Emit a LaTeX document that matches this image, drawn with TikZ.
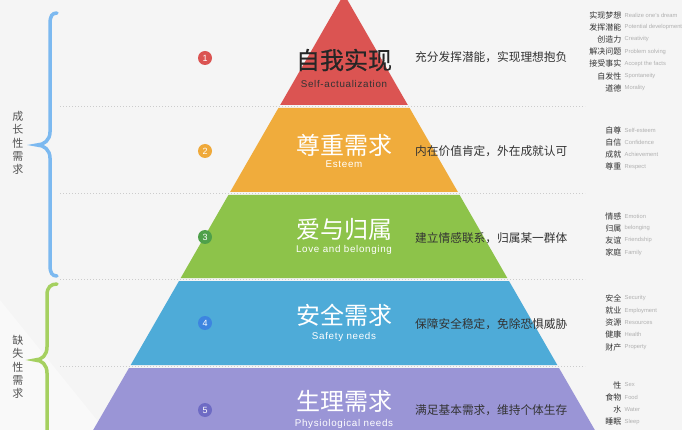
\documentclass[tikz,border=0pt]{standalone}
\usepackage{fontspec}
\setmainfont{Liberation Sans}
\newfontfamily\cjk{Noto Sans CJK SC}
\newfontfamily\cjkbold[FakeBold=0.6]{Noto Sans CJK SC}
\newfontfamily\subfont[LetterSpace=7]{Liberation Sans}
\definecolor{bg}{HTML}{F5F5F5}
\definecolor{bglight}{HTML}{F9F9F9}
\definecolor{cred}{HTML}{DB5452}
\definecolor{corange}{HTML}{F0AC3C}
\definecolor{cgreen}{HTML}{8DC34A}
\definecolor{cblue}{HTML}{4EABD8}
\definecolor{cpurple}{HTML}{9A95D6}
\definecolor{nred}{HTML}{DB5452}
\definecolor{norange}{HTML}{EFA93A}
\definecolor{ngreen}{HTML}{4FA04A}
\definecolor{nblue}{HTML}{3D85E0}
\definecolor{npurple}{HTML}{6E6BC4}
\definecolor{braceblue}{HTML}{7CB9F0}
\definecolor{bracegreen}{HTML}{A5D060}
\definecolor{txtdark}{HTML}{333333}
\definecolor{txtmid}{HTML}{555555}
\definecolor{txtlight}{HTML}{B0B0B0}
\definecolor{dotc}{HTML}{CCCCCC}
\tikzset{
  head/.style={inner sep=0, font=\cjk\fontsize{24}{24}\selectfont},
  subt/.style={inner sep=0, font=\subfont\fontsize{9.8}{10}\selectfont},
  desc/.style={anchor=west, inner sep=0, text=txtdark, font=\cjk\fontsize{11.7}{12}\selectfont},
  cn/.style={anchor=east, inner sep=0, text=txtdark, font=\cjk\fontsize{8}{8}\selectfont},
  en/.style={anchor=west, inner sep=0, text=txtlight, font=\fontsize{5.8}{6}\selectfont},
  num/.style={circle, minimum size=14pt, inner sep=0, text=white, font=\fontsize{9}{9}\selectfont},
  vtext/.style={align=center, inner sep=0, text=txtmid, font=\cjk\fontsize{11}{13.4}\selectfont},
  brace/.style={line width=3.5pt, line cap=round},
  dotline/.style={dotc, line width=0.8pt, dash pattern=on 1pt off 2pt}
}
\begin{document}
\begin{tikzpicture}[x=1pt,y=-1pt]
\useasboundingbox (0,0) rectangle (682,430);
\begin{scope}
\clip (0,0) rectangle (682,430);
\fill[bg] (0,0) rectangle (682,430);
\fill[bglight] (0,300) -- (105,430) -- (0,430) -- cycle;
% pyramid layers (apex 344,-6; half width = 0.575*(y+6))
\fill[cred] (344,-6) -- (407.8,105) -- (280.2,105) -- cycle;
\fill[corange] (278.4,108) -- (409.6,108) -- (457.9,192) -- (230.1,192) -- cycle;
\fill[cgreen] (228.4,195) -- (459.6,195) -- (507.3,278) -- (180.7,278) -- cycle;
\fill[cblue] (179,281) -- (509,281) -- (557.3,365) -- (130.7,365) -- cycle;
\fill[cpurple] (129,368) -- (559,368) -- (600.6,440) -- (87.4,440) -- cycle;
% dotted separators
\coordinate (d1a) at (60,106.5); \coordinate (d1b) at (585,106.5);
\coordinate (d2a) at (60,193.5); \coordinate (d2b) at (585,193.5);
\coordinate (d3a) at (60,279.5); \coordinate (d3b) at (585,279.5);
\coordinate (d4a) at (60,366.5); \coordinate (d4b) at (585,366.5);
\draw[dotline] (d1a) -- (d1b);
\draw[dotline] (d2a) -- (d2b);
\draw[dotline] (d3a) -- (d3b);
\draw[dotline] (d4a) -- (d4b);
% braces
\draw[brace, braceblue] (57,13) .. controls (52,13) and (50,16) .. (50,24) -- (50,132) .. controls (50,140) and (44,145) .. (37,145) .. controls (44,145) and (50,150) .. (50,158) -- (50,265) .. controls (50,273) and (52,276) .. (57,276);
\draw[brace, bracegreen] (57,284) .. controls (51,284) and (47,287) .. (47,295) -- (47,347) .. controls (47,355) and (42,360) .. (35,360) .. controls (42,360) and (47,365) .. (47,373) -- (47,440);
\node[vtext] (grow) at (18,143) {成\\长\\性\\需\\求};
\node[vtext] (lack) at (18,367) {缺\\失\\性\\需\\求};
% numbers
\node[num, fill=nred] (n1) at (205,58) {1};
\node[num, fill=norange] (n2) at (205,151) {2};
\node[num, fill=ngreen] (n3) at (205,237) {3};
\node[num, fill=nblue] (n4) at (205,323) {4};
\node[num, fill=npurple] (n5) at (205,410) {5};
% headings
\node[head, text=black!85, font=\cjkbold\fontsize{24}{24}\selectfont] (h1) at (344,60) {自我实现};
\node[subt, text=black!80] (s1) at (344,84) {Self-actualization};
\node[head, text=white] (h2) at (344,145) {尊重需求};
\node[subt, text=white] (s2) at (344,164) {Esteem};
\node[head, text=white] (h3) at (344,229) {爱与归属};
\node[subt, text=white] (s3) at (344,250) {Love and belonging};
\node[head, text=white] (h4) at (344,315) {安全需求};
\node[subt, text=white] (s4) at (344,337) {Safety needs};
\node[head, text=white] (h5) at (344,401) {生理需求};
\node[subt, text=white] (s5) at (344,424) {Physiological needs};
% descriptions
\node[desc] (e1) at (415,57) {充分发挥潜能，实现理想抱负};
\node[desc] (e2) at (415,151) {内在价值肯定，外在成就认可};
\node[desc] (e3) at (415,238) {建立情感联系，归属某一群体};
\node[desc] (e4) at (415,324) {保障安全稳定，免除恐惧威胁};
\node[desc] (e5) at (415,410) {满足基本需求，维持个体生存};
% right column
\foreach \y/\c/\e [count=\i] in {15/实现梦想/Realize one's dream, 27.2/发挥潜能/Potential development, 39.4/创造力/Creativity, 51.6/解决问题/Problem solving, 63.8/接受事实/Accept the facts, 76/自发性/Spontaneity, 88.2/道德/Morality}{
  \node[cn] (a\i) at (621.5,\y) {\c};
  \node[en] (ae\i) at (624.5,\y) {\e};
}
\foreach \y/\c/\e [count=\i] in {130/自尊/Self-esteem, 142.3/自信/Confidence, 154.5/成就/Achievement, 166.7/尊重/Respect}{
  \node[cn] (b\i) at (621.5,\y) {\c};
  \node[en] (be\i) at (624.5,\y) {\e};
}
\foreach \y/\c/\e [count=\i] in {216/情感/Emotion, 228.2/归属/belonging, 240.4/友谊/Friendship, 252.6/家庭/Family}{
  \node[cn] (c\i) at (621.5,\y) {\c};
  \node[en] (ce\i) at (624.5,\y) {\e};
}
\foreach \y/\c/\e [count=\i] in {298.3/安全/Security, 310.5/就业/Employment, 322.7/资源/Resources, 334.9/健康/Health, 347.1/财产/Property}{
  \node[cn] (f\i) at (621.5,\y) {\c};
  \node[en] (fe\i) at (624.5,\y) {\e};
}
\foreach \y/\c/\e [count=\i] in {385/性/Sex, 397.3/食物/Food, 409.6/水/Water, 421.8/睡眠/Sleep}{
  \node[cn] (g\i) at (621.5,\y) {\c};
  \node[en] (ge\i) at (624.5,\y) {\e};
}
\end{scope}
\end{tikzpicture}
\end{document}
